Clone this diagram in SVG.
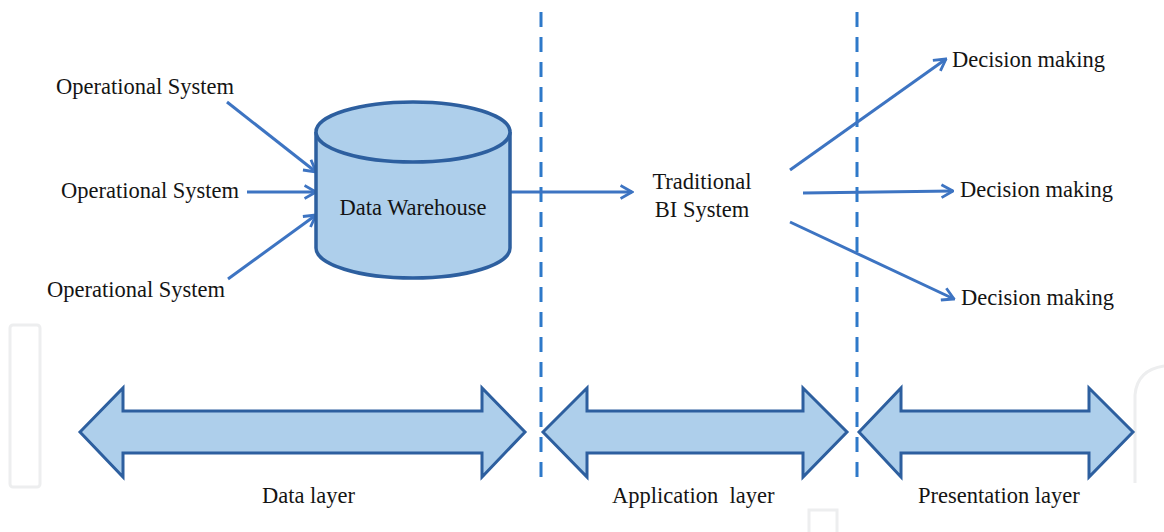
<svg xmlns="http://www.w3.org/2000/svg" width="1164" height="532" viewBox="0 0 1164 532">
  <defs>
    <style>
      .lbl { font-family: "Liberation Serif", "Times New Roman", serif; font-size: 22.5px; fill: #141414; }
      .conn { stroke: #3D74C2; stroke-width: 3; fill: none; marker-end: url(#head); }
      .divider { stroke: #2E79C9; stroke-width: 3; stroke-dasharray: 15 10; fill: none; }
      .layer { fill: #AECFEB; stroke: #2D5F9F; stroke-width: 3; stroke-linejoin: miter; }
      .db { fill: #AECFEB; stroke: #2D5F9F; stroke-width: 3.5; }
      .wm { fill: none; stroke: #EDEEEF; stroke-width: 3; }
    </style>
    <marker id="head" viewBox="0 0 14 16" refX="12.5" refY="8" markerWidth="14" markerHeight="16" markerUnits="userSpaceOnUse" orient="auto">
      <path d="M1,1.5 L12.5,8 L1,14.5" fill="none" stroke="#3D74C2" stroke-width="2.8" stroke-linejoin="miter"/>
    </marker>
  </defs>

  <rect width="1164" height="532" fill="#FFFFFF"/>

  <!-- faint watermark remnants -->
  <g id="watermark">
    <rect class="wm" x="10" y="325" width="30" height="162" rx="3"/>
    <path class="wm" d="M1135,483 L1135,395 Q1137,370 1164,366"/>
    <rect class="wm" x="809" y="510" width="28" height="24"/>
  </g>

  <!-- layer dividers -->
  <g id="dividers">
    <line class="divider" x1="541" y1="12" x2="541" y2="478"/>
    <line class="divider" x1="857" y1="12" x2="857" y2="478"/>
  </g>

  <!-- connectors -->
  <g id="connectors">
    <line class="conn" x1="227" y1="102" x2="316" y2="172"/>
    <line class="conn" x1="247" y1="192" x2="316" y2="192"/>
    <line class="conn" x1="228" y1="279" x2="316" y2="215"/>
    <line class="conn" x1="510" y1="192" x2="632" y2="192"/>
    <line class="conn" x1="790" y1="170" x2="946" y2="59"/>
    <line class="conn" x1="803" y1="193" x2="953" y2="191"/>
    <line class="conn" x1="790" y1="222" x2="954" y2="299"/>
  </g>

  <!-- sources -->
  <g id="op1"><text class="lbl" x="56" y="94">Operational System</text></g>
  <g id="op2"><text class="lbl" x="61" y="198">Operational System</text></g>
  <g id="op3"><text class="lbl" x="47" y="297">Operational System</text></g>

  <!-- data warehouse cylinder -->
  <g id="data-warehouse">
    <path class="db" d="M316,132 L316,248 A97,30 0 0 0 510,248 L510,132"/>
    <ellipse class="db" cx="413" cy="132" rx="97" ry="30"/>
    <text class="lbl" x="413" y="215" text-anchor="middle">Data Warehouse</text>
  </g>

  <!-- BI system -->
  <g id="bi-system">
    <text class="lbl" x="702" y="189" text-anchor="middle">Traditional</text>
    <text class="lbl" x="702" y="217" text-anchor="middle">BI System</text>
  </g>

  <!-- outputs -->
  <g id="dm1"><text class="lbl" x="952" y="67">Decision making</text></g>
  <g id="dm2"><text class="lbl" x="960" y="197">Decision making</text></g>
  <g id="dm3"><text class="lbl" x="961" y="305">Decision making</text></g>

  <!-- layer arrows -->
  <g id="data-layer">
    <polygon class="layer" points="80,432 123,388 123,411 482,411 482,388 525,432 482,477 482,453 123,453 123,477"/>
    <text class="lbl" x="262" y="503">Data layer</text>
  </g>
  <g id="application-layer">
    <polygon class="layer" points="543,432 587,388 587,411 803,411 803,388 847,432 803,477 803,453 587,453 587,477"/>
    <text class="lbl" x="612" y="503" xml:space="preserve">Application  layer</text>
  </g>
  <g id="presentation-layer">
    <polygon class="layer" points="859,432 901,388 901,411 1089,411 1089,388 1133,432 1089,477 1089,453 901,453 901,477"/>
    <text class="lbl" x="918" y="503">Presentation layer</text>
  </g>
</svg>
